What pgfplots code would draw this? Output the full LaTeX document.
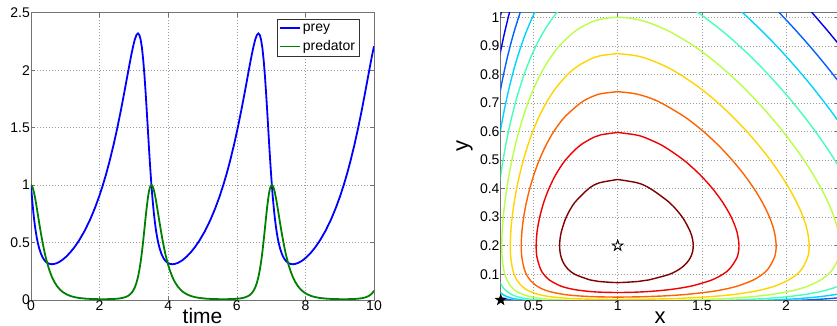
\documentclass[border=0pt]{standalone}
\usepackage{fontspec}
\setmainfont{Liberation Sans}
\usepackage{pgfplots}
\usepackage{pgfplotstable}
\pgfplotsset{compat=1.18}

\definecolor{mblue}{rgb}{0,0,1}
\definecolor{mgreen}{rgb}{0,0.5,0}
\definecolor{cA}{rgb}{0.5,0,0}
\definecolor{cB}{rgb}{0.944,0,0}
\definecolor{cC}{rgb}{1,0.389,0}
\definecolor{cD}{rgb}{1,0.833,0}
\definecolor{cE}{rgb}{0.722,1,0.278}
\definecolor{cF}{rgb}{0.278,1,0.722}
\definecolor{cG}{rgb}{0,0.833,1}
\definecolor{cH}{rgb}{0,0.389,1}
\definecolor{cI}{rgb}{0,0,0.944}
\definecolor{cJ}{rgb}{0,0,0.5}

\pgfdeclareplotmark{pentastar}{%
  \pgfpathmoveto{\pgfpointpolar{90}{\pgfplotmarksize}}%
  \pgfpathlineto{\pgfpointpolar{126}{0.40\pgfplotmarksize}}%
  \pgfpathlineto{\pgfpointpolar{162}{\pgfplotmarksize}}%
  \pgfpathlineto{\pgfpointpolar{198}{0.40\pgfplotmarksize}}%
  \pgfpathlineto{\pgfpointpolar{234}{\pgfplotmarksize}}%
  \pgfpathlineto{\pgfpointpolar{270}{0.40\pgfplotmarksize}}%
  \pgfpathlineto{\pgfpointpolar{306}{\pgfplotmarksize}}%
  \pgfpathlineto{\pgfpointpolar{342}{0.40\pgfplotmarksize}}%
  \pgfpathlineto{\pgfpointpolar{18}{\pgfplotmarksize}}%
  \pgfpathlineto{\pgfpointpolar{54}{0.40\pgfplotmarksize}}%
  \pgfpathclose
  \pgfusepathqfillstroke}

\pgfplotstableread{
t prey pred
0.000 1.0000 1.0000
0.013 0.9500 0.9984
0.026 0.9000 0.9933
0.041 0.8500 0.9843
0.057 0.8000 0.9710
0.073 0.7500 0.9526
0.092 0.7000 0.9285
0.113 0.6500 0.8976
0.137 0.6000 0.8587
0.164 0.5500 0.8100
0.197 0.5000 0.7491
0.238 0.4500 0.6720
0.294 0.4000 0.5720
0.338 0.3717 0.5000
0.371 0.3552 0.4500
0.407 0.3411 0.4000
0.448 0.3293 0.3500
0.493 0.3201 0.3000
0.547 0.3138 0.2500
0.611 0.3114 0.2000
0.676 0.3135 0.1600
0.761 0.3217 0.1200
0.846 0.3351 0.0900
0.923 0.3509 0.0700
1.029 0.3780 0.0500
1.147 0.4150 0.0350
1.267 0.4594 0.0250
1.395 0.5150 0.0180
1.561 0.6000 0.0125
1.724 0.7000 0.0094
1.863 0.8000 0.0079
1.986 0.9000 0.0072
2.095 1.0000 0.0070
2.194 1.1000 0.0072
2.284 1.2000 0.0077
2.407 1.3500 0.0091
2.518 1.5000 0.0114
2.620 1.6500 0.0153
2.716 1.8000 0.0217
2.809 1.9500 0.0325
2.871 2.0500 0.0443
2.927 2.1365 0.0600
2.976 2.2061 0.0800
3.027 2.2670 0.1100
3.075 2.3062 0.1500
3.119 2.3194 0.2000
3.159 2.3062 0.2600
3.196 2.2665 0.3300
3.236 2.1907 0.4200
3.273 2.0831 0.5200
3.308 1.9546 0.6200
3.342 1.8047 0.7200
3.371 1.6655 0.8000
3.400 1.5225 0.8700
3.411 1.4640 0.8950
3.424 1.3993 0.9200
3.444 1.3000 0.9527
3.465 1.2000 0.9778
3.487 1.1000 0.9941
3.511 1.0000 1.0000
3.524 0.9500 0.9984
3.537 0.9000 0.9933
3.552 0.8500 0.9843
3.568 0.8000 0.9710
3.584 0.7500 0.9526
3.603 0.7000 0.9285
3.624 0.6500 0.8976
3.648 0.6000 0.8587
3.675 0.5500 0.8100
3.708 0.5000 0.7491
3.749 0.4500 0.6720
3.805 0.4000 0.5720
3.849 0.3717 0.5000
3.882 0.3552 0.4500
3.918 0.3411 0.4000
3.959 0.3293 0.3500
4.004 0.3201 0.3000
4.058 0.3138 0.2500
4.122 0.3114 0.2000
4.187 0.3135 0.1600
4.272 0.3217 0.1200
4.357 0.3351 0.0900
4.434 0.3509 0.0700
4.540 0.3780 0.0500
4.658 0.4150 0.0350
4.778 0.4594 0.0250
4.906 0.5150 0.0180
5.072 0.6000 0.0125
5.235 0.7000 0.0094
5.374 0.8000 0.0079
5.497 0.9000 0.0072
5.606 1.0000 0.0070
5.705 1.1000 0.0072
5.795 1.2000 0.0077
5.918 1.3500 0.0091
6.029 1.5000 0.0114
6.131 1.6500 0.0153
6.227 1.8000 0.0217
6.320 1.9500 0.0325
6.382 2.0500 0.0443
6.438 2.1365 0.0600
6.487 2.2061 0.0800
6.538 2.2670 0.1100
6.586 2.3062 0.1500
6.630 2.3194 0.2000
6.670 2.3062 0.2600
6.707 2.2665 0.3300
6.747 2.1907 0.4200
6.784 2.0831 0.5200
6.819 1.9546 0.6200
6.853 1.8047 0.7200
6.882 1.6655 0.8000
6.911 1.5225 0.8700
6.922 1.4640 0.8950
6.935 1.3993 0.9200
6.955 1.3000 0.9527
6.976 1.2000 0.9778
6.998 1.1000 0.9941
7.022 1.0000 1.0000
7.035 0.9500 0.9984
7.048 0.9000 0.9933
7.063 0.8500 0.9843
7.079 0.8000 0.9710
7.095 0.7500 0.9526
7.114 0.7000 0.9285
7.135 0.6500 0.8976
7.159 0.6000 0.8587
7.186 0.5500 0.8100
7.219 0.5000 0.7491
7.260 0.4500 0.6720
7.316 0.4000 0.5720
7.360 0.3717 0.5000
7.393 0.3552 0.4500
7.429 0.3411 0.4000
7.470 0.3293 0.3500
7.515 0.3201 0.3000
7.569 0.3138 0.2500
7.633 0.3114 0.2000
7.698 0.3135 0.1600
7.783 0.3217 0.1200
7.868 0.3351 0.0900
7.945 0.3509 0.0700
8.051 0.3780 0.0500
8.169 0.4150 0.0350
8.289 0.4594 0.0250
8.417 0.5150 0.0180
8.583 0.6000 0.0125
8.746 0.7000 0.0094
8.885 0.8000 0.0079
9.008 0.9000 0.0072
9.117 1.0000 0.0070
9.216 1.1000 0.0072
9.306 1.2000 0.0077
9.429 1.3500 0.0091
9.540 1.5000 0.0114
9.642 1.6500 0.0153
9.738 1.8000 0.0217
9.831 1.9500 0.0325
9.893 2.0500 0.0443
9.949 2.1365 0.0600
9.998 2.2061 0.0800
10.000 2.2086 0.0810
}\lvdata

\pgfplotsset{
  mstyle/.style={
    scale only axis,
    tick align=inside,
    major tick length=4pt,
    axis line style={black!55, line width=0.6pt},
    tick style={black!55, line width=0.6pt},
    grid=major,
    grid style={dash pattern=on 0.8pt off 2.2pt, black!40, line width=0.6pt},
    /pgf/number format/assume math mode=true,
    ticklabel style={font=\fontsize{14}{16}\selectfont},
    xticklabel style={inner sep=1pt, anchor=north},
    yticklabel style={inner sep=1pt, anchor=east},
  },
  cline/.style={line width=1.4pt, smooth, tension=0.5},
}

\begin{document}
\begin{tikzpicture}
\path[use as bounding box] (0,0) rectangle (837pt,326pt);

\begin{axis}[mstyle,
  at={(31pt,26pt)}, anchor=south west,
  width=343pt, height=287.3pt,
  xmin=0, xmax=10, ymin=0, ymax=2.5,
  xtick={0,2,4,6,8,10}, ytick={0,0.5,1,1.5,2,2.5},
  xlabel={time},
  xlabel style={font=\fontsize{21}{24}\selectfont, at={(axis description cs:0.5,0)}, anchor=base, yshift=-23.5pt, inner sep=0pt},
  legend style={at={(rel axis cs:1,1)}, anchor=north east, xshift=-14.7pt, yshift=-6.6pt,
    font=\fontsize{14}{16}\selectfont, draw=black!80, line width=0.6pt,
    inner xsep=2pt, inner ysep=2pt, row sep=4pt, cells={anchor=west}},
  legend image code/.code={\draw[#1, line width=1.8pt] (0pt,0pt) -- (20pt,0pt);},
]
\addplot[mblue, line width=1.8pt] table[x=t, y=prey]{\lvdata};
\addlegendentry{prey}
\addplot[mgreen, line width=1.8pt] table[x=t, y=pred]{\lvdata};
\addlegendentry{predator}
\end{axis}

\begin{axis}[mstyle,
  at={(500.7pt,26pt)}, anchor=south west,
  width=338.3pt, height=287.3pt,
  xmin=0.305, xmax=2.315, ymin=0.01, ymax=1.016,
  xtick={0.5,1,1.5,2}, ytick={0.1,0.2,0.3,0.4,0.5,0.6,0.7,0.8,0.9,1},
  xlabel={x}, ylabel={y},
  xlabel style={font=\fontsize{22}{24}\selectfont, at={(axis description cs:0.471,0)}, anchor=base, yshift=-23.5pt, inner sep=0pt},
  ylabel style={font=\fontsize{22}{24}\selectfont, at={([xshift=-36pt]axis description cs:0,0.535)}, anchor=center, inner sep=0pt},
]
% level 1.6
\addplot[cA, cline] coordinates {(1,0.4320) (0.8903,0.42) (0.8280,0.40) (0.7432,0.35) (0.6944,0.30) (0.6656,0.25) (0.6569,0.22) (0.6552,0.20) (0.6572,0.18) (0.6641,0.16) (0.6777,0.14) (0.7018,0.12) (0.7449,0.10) (0.8375,0.08) (0.8868,0.075) (1,0.0710) (1.1225,0.075) (1.1823,0.08) (1.3075,0.10) (1.3722,0.12) (1.4109,0.14) (1.4334,0.16) (1.4455,0.18) (1.4489,0.20) (1.4458,0.22) (1.4309,0.25) (1.3842,0.30) (1.3098,0.35) (1.1943,0.40) (1.1184,0.42) (1,0.4320)};
% level 1.7
\addplot[cB, cline] coordinates {(1,0.5967) (0.9,0.5885) (0.8587,0.58) (0.7736,0.55) (0.6896,0.50) (0.6332,0.45) (0.5915,0.40) (0.5597,0.35) (0.5366,0.30) (0.5213,0.25) (0.5156,0.20) (0.5205,0.16) (0.5403,0.12) (0.5604,0.10) (0.5942,0.08) (0.6567,0.06) (0.7143,0.05) (0.7590,0.045) (0.8307,0.04) (0.9,0.0374) (1,0.0362) (1.1,0.0373) (1.1910,0.04) (1.2874,0.045) (1.3535,0.05) (1.4463,0.06) (1.5585,0.08) (1.6247,0.10) (1.6667,0.12) (1.7098,0.16) (1.7208,0.20) (1.7080,0.25) (1.6748,0.30) (1.6261,0.35) (1.5637,0.40) (1.4868,0.45) (1.3921,0.50) (1.2674,0.55) (1.1561,0.58) (1.1,0.5889) (1,0.5967)};
% level 1.8
\addplot[cC, cline] coordinates {(1,0.7396) (0.9,0.7322) (0.8404,0.72) (0.7794,0.70) (0.6841,0.65) (0.6203,0.60) (0.5724,0.55) (0.5342,0.50) (0.5030,0.45) (0.4775,0.40) (0.4571,0.35) (0.4415,0.30) (0.4311,0.25) (0.4271,0.20) (0.4306,0.16) (0.4441,0.12) (0.4576,0.10) (0.4792,0.08) (0.5165,0.06) (0.5465,0.05) (0.5922,0.04) (0.6739,0.03) (0.7517,0.025) (0.8386,0.022) (0.9,0.0209) (1,0.0202) (1.1,0.0208) (1.1810,0.022) (1.2981,0.025) (1.4173,0.03) (1.5623,0.04) (1.6540,0.05) (1.7189,0.06) (1.8058,0.08) (1.8600,0.10) (1.8953,0.12) (1.9319,0.16) (1.9416,0.20) (1.9304,0.25) (1.9022,0.30) (1.8612,0.35) (1.8100,0.40) (1.7498,0.45) (1.6801,0.50) (1.6011,0.55) (1.5096,0.60) (1.4011,0.65) (1.2589,0.70) (1.1786,0.72) (1.1,0.7327) (1,0.7396)};
% level 1.9
\addplot[cD, cline] coordinates {(1,0.8727) (0.9,0.8657) (0.8438,0.855) (0.7657,0.83) (0.7032,0.80) (0.6295,0.75) (0.5748,0.70) (0.5314,0.65) (0.4955,0.60) (0.4654,0.55) (0.4397,0.50) (0.4181,0.45) (0.3997,0.40) (0.3847,0.35) (0.3730,0.30) (0.3651,0.25) (0.3620,0.20) (0.3647,0.16) (0.3750,0.12) (0.3851,0.10) (0.4010,0.08) (0.4277,0.06) (0.4483,0.05) (0.4780,0.04) (0.5259,0.03) (0.5634,0.025) (0.6208,0.02) (0.6994,0.016) (0.7675,0.014) (0.8584,0.0125) (0.9,0.0121) (1,0.0118) (1.1,0.0121) (1.1564,0.0125) (1.2751,0.014) (1.3759,0.016) (1.5089,0.02) (1.6188,0.025) (1.6983,0.03) (1.8089,0.04) (1.8844,0.05) (1.9399,0.06) (2.0158,0.08) (2.0641,0.10) (2.0959,0.12) (2.1291,0.16) (2.1379,0.20) (2.1277,0.25) (2.1022,0.30) (2.0652,0.35) (2.0195,0.40) (1.9665,0.45) (1.9067,0.50) (1.8403,0.55) (1.7671,0.60) (1.6863,0.65) (1.5964,0.70) (1.4936,0.75) (1.3701,0.80) (1.2773,0.83) (1.1745,0.855) (1.1,0.8662) (1,0.8727)};
% level 2.0
\addplot[cE, cline] coordinates {(0.7881,0.008) (0.6733,0.01) (0.6116,0.012) (0.5700,0.014) (0.5391,0.016) (0.4957,0.02) (0.4594,0.025) (0.4342,0.03) (0.4001,0.04) (0.3780,0.05) (0.3625,0.06) (0.3421,0.08) (0.3296,0.10) (0.3217,0.12) (0.3166,0.14) (0.3135,0.16) (0.3114,0.20) (0.3138,0.25) (0.3201,0.30) (0.3293,0.35) (0.3411,0.40) (0.3552,0.45) (0.3717,0.50) (0.3908,0.55) (0.4128,0.60) (0.4378,0.65) (0.4670,0.70) (0.5007,0.75) (0.5410,0.80) (0.5904,0.85) (0.6537,0.90) (0.7441,0.95) (0.8320,0.98) (0.9,0.9933) (1,1.0) (1.1,0.9941) (1.1893,0.98) (1.3086,0.95) (1.4515,0.90) (1.5658,0.85) (1.6653,0.80) (1.7548,0.75) (1.8364,0.70) (1.9119,0.65) (1.9817,0.60) (2.0466,0.55) (2.1063,0.50) (2.1607,0.45) (2.2094,0.40) (2.2517,0.35) (2.2859,0.30) (2.3099,0.25) (2.3194,0.20) (2.3112,0.16) (2.2994,0.14) (2.2801,0.12) (2.2507,0.10) (2.2061,0.08) (2.1365,0.06) (2.0861,0.05) (2.0185,0.04) (1.9219,0.03) (1.8552,0.025) (1.7665,0.02) (1.6692,0.016) (1.6059,0.014) (1.5258,0.012) (1.4182,0.01) (1.2471,0.008)};
% level 2.1
\addplot[cF, cline] coordinates {(0.6756,1.04) (0.6443,1.02) (0.6169,1.0) (0.5601,0.95) (0.5148,0.90) (0.4769,0.85) (0.4446,0.80) (0.4166,0.75) (0.3919,0.70) (0.3703,0.65) (0.3511,0.60) (0.3342,0.55) (0.3191,0.50) (0.3060,0.45) (0.2947,0.40)};
\addplot[cF, cline] coordinates {(0.2898,0.09) (0.2955,0.08) (0.3026,0.07) (0.3118,0.06) (0.3241,0.05) (0.3414,0.04) (0.3675,0.03) (0.3865,0.025) (0.4130,0.02) (0.4433,0.016) (0.4638,0.014) (0.4901,0.012) (0.5256,0.01) (0.5779,0.008)};
\addplot[cF, cline] coordinates {(1.4145,1.04) (1.4672,1.02) (1.5159,1.0) (1.6253,0.95) (1.7227,0.90) (1.8117,0.85) (1.8941,0.80) (1.9709,0.75) (2.0431,0.70) (2.1109,0.65) (2.1746,0.60) (2.2343,0.55) (2.2898,0.50) (2.3407,0.45)};
\addplot[cF, cline] coordinates {(2.3180,0.06) (2.2710,0.05) (2.2085,0.04) (2.1201,0.03) (2.0598,0.025) (1.9813,0.02) (1.8975,0.016) (1.8444,0.014) (1.7799,0.012) (1.6990,0.01) (1.5900,0.008)};
% level 2.2
\addplot[cG, cline] coordinates {(0.5269,1.04) (0.5096,1.02) (0.4934,1.0) (0.4574,0.95) (0.4265,0.90) (0.3992,0.85) (0.3753,0.80) (0.3541,0.75) (0.3350,0.70) (0.3180,0.65) (0.3027,0.60) (0.2890,0.55)};
\addplot[cG, cline] coordinates {(0.2949,0.04) (0.3042,0.035) (0.3158,0.03) (0.3307,0.025) (0.3512,0.02) (0.3744,0.016) (0.3896,0.014) (0.4089,0.012) (0.4340,0.01) (0.4690,0.008)};
\addplot[cG, cline] coordinates {(1.6962,1.04) (1.7347,1.02) (1.7720,1.0) (1.8606,0.95) (1.9433,0.90) (2.0210,0.85) (2.0948,0.80) (2.1647,0.75) (2.2311,0.70) (2.2942,0.65) (2.3539,0.60)};
\addplot[cG, cline] coordinates {(2.3857,0.04) (2.3481,0.035) (2.3028,0.03) (2.2467,0.025) (2.1742,0.02) (2.0979,0.016) (2.0502,0.014) (1.9931,0.012) (1.9225,0.01) (1.8313,0.008)};
% level 2.3
\addplot[cH, cline] coordinates {(0.4348,1.04) (0.4227,1.02) (0.4113,1.0) (0.3849,0.95) (0.3616,0.90) (0.3407,0.85) (0.3220,0.80) (0.3051,0.75) (0.2897,0.70)};
\addplot[cH, cline] coordinates {(0.2863,0.025) (0.3028,0.02) (0.3212,0.016) (0.3332,0.014) (0.3481,0.012) (0.3673,0.01) (0.3934,0.008)};
\addplot[cH, cline] coordinates {(1.9202,1.04) (1.9536,1.02) (1.9861,1.0) (2.0646,0.95) (2.1394,0.90) (2.2108,0.85) (2.2791,0.80) (2.3445,0.75)};
\addplot[cH, cline] coordinates {(2.3201,0.018) (2.2819,0.016) (2.2376,0.014) (2.1850,0.012) (2.1206,0.01) (2.0385,0.008)};
% level 2.4
\addplot[cI, cline] coordinates {(0.3679,1.04) (0.3587,1.02) (0.3499,1.0) (0.3295,0.95) (0.3110,0.90) (0.2943,0.85)};
\addplot[cI, cline] coordinates {(0.2883,0.014) (0.3002,0.012) (0.3156,0.01) (0.3362,0.008)};
\addplot[cI, cline] coordinates {(2.1185,1.04) (2.1489,1.02) (2.1786,1.0) (2.2512,0.95) (2.3208,0.90)};
% level 2.5
\addplot[cJ, cline] coordinates {(0.3161,1.04) (0.3017,1.0) (0.2950,0.98)};
% equilibria
\addplot[only marks, mark=pentastar, mark size=5.5pt, mark options={fill=white, draw=black, line width=0.9pt}] coordinates {(1,0.2)};
\addplot[only marks, mark=pentastar, mark size=5.5pt, mark options={fill=black, draw=black, line width=0.6pt}] coordinates {(0.305,0.01)};
\end{axis}
\end{tikzpicture}
\end{document}
